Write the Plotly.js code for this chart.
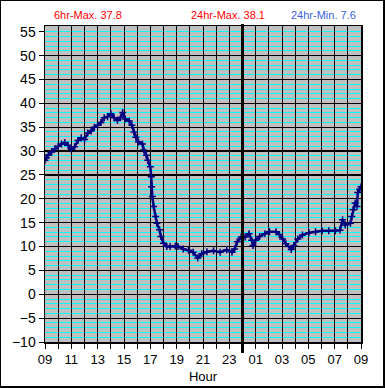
<!DOCTYPE html>
<html>
<head>
<meta charset="utf-8">
<script src="https://cdn.plot.ly/plotly-3.0.1.min.js"></script>
<style>
html,body{margin:0;padding:0;background:#fff;}
#frame{position:absolute;left:0;top:0;width:385px;height:388px;box-sizing:border-box;border-left:1px solid #000;border-top:1px solid #000;border-right:2px solid #000;border-bottom:2px solid #000;pointer-events:none;z-index:10;}
#chart{position:absolute;left:0;top:0;width:385px;height:388px;}
</style>
</head>
<body>
<div id="chart"></div>
<div id="frame"></div>
<script>
// Hours elapsed since 09:00
const hoursFrom9 = [0.0,0.1,0.25,0.5,0.75,1.0,1.25,1.5,1.75,2.0,2.25,2.5,2.75,3.0,3.25,3.5,3.75,4.0,4.25,4.5,4.75,5.0,5.25,5.5,5.75,5.9,6.1,6.4,6.6,6.75,6.9,7.1,7.4,7.5,7.7,7.8,8.0,8.07,8.1,8.15,8.25,8.4,8.5,8.7,8.8,9.0,9.25,9.5,9.9,10.1,10.5,10.9,11.25,11.6,11.9,12.3,12.8,13.3,13.8,14.2,14.4,14.6,14.9,15.2,15.5,15.7,15.8,16.0,16.3,16.7,17.05,17.55,17.8,18.05,18.3,18.7,18.9,19.2,19.55,20.05,20.55,21.05,21.55,22.05,22.4,22.6,22.8,23.2,23.3,23.4,23.55,23.7,23.75,23.9,24.0];
const temps = [28.1,28.6,29.1,29.8,30.5,31.0,31.5,31.8,31.2,30.4,30.9,32.2,32.8,32.4,33.8,34.2,35.0,35.4,36.0,37.0,37.2,37.8,37.0,36.4,37.1,38.1,36.7,36.3,35.4,34.0,32.9,31.9,31.5,30.2,29.1,28.1,26.7,24.6,22.5,20.5,18.4,16.3,14.9,13.5,12.1,10.7,10.0,10.0,10.1,10.0,9.5,9.2,8.8,7.6,8.5,8.9,9.1,8.8,9.3,8.8,9.5,11.0,12.0,12.0,12.7,11.3,10.2,11.3,12.1,12.7,13.1,13.1,12.5,11.6,10.6,9.4,10.2,11.6,12.4,12.9,13.1,13.3,13.3,13.3,13.4,15.6,14.5,14.9,16.3,17.7,19.1,18.4,21.3,22.0,22.5];

const hourTickVals = [0,1,2,3,4,5,6,7,8,9,10,11,12,13,14,15,16,17,18,19,20,21,22,23,24];
const hourTickText = ['09','','11','','13','','15','','17','','19','','21','','23','','01','','03','','05','','07','','09'];
const yTickVals = [-10,-5,0,5,10,15,20,25,30,35,40,45,50,55];
const yGridVals = [-10,-5,0,5,10,15,20,25,30,35,40,45,50];

const labels = {
  max6: '6hr-Max. 37.8',
  max24: '24hr-Max. 38.1',
  min24: '24hr-Min. 7.6',
  xTitle: 'Hour'
};
const midnightHour = 15;

const font = 'Arial, "Liberation Sans", sans-serif';

const trace = {
  x: hoursFrom9, y: temps, type: 'scatter', mode: 'lines+markers',
  line: {color: '#000080', width: 2.5},
  marker: {symbol: 'cross-thin', size: 5, line: {color: '#000080', width: 1.5}, color: '#000080'},
  hoverinfo: 'skip', showlegend: false
};
const dummy = {x: [0], y: [0], xaxis: 'x', yaxis: 'y2', mode: 'none', showlegend: false, hoverinfo: 'skip'};

const layout = {
  width: 385, height: 388,
  margin: {l: 45, r: 24, t: 26, b: 46},
  paper_bgcolor: '#ffffff',
  plot_bgcolor: '#C0C0C0',
  font: {family: font, color: '#000', size: 13},
  showlegend: false,
  xaxis: {
    range: [0, 24], tickmode: 'array', tickvals: hourTickVals, ticktext: hourTickText,
    showgrid: true, gridcolor: '#000', gridwidth: 1,
    ticks: 'outside', ticklen: 5, tickcolor: '#000', tickwidth: 1,
    showline: true, linecolor: '#000', linewidth: 1.5, mirror: true,
    zeroline: false, tickfont: {family: font, size: 13, color: '#000'},
    title: {text: labels.xTitle, font: {family: font, size: 13, color: '#000'}, standoff: 6}
  },
  yaxis: {
    range: [-10, 56.2], tickmode: 'array', tickvals: yTickVals,
    showgrid: false, zeroline: false,
    ticks: 'outside', ticklen: 5, tickcolor: '#000', tickwidth: 1,
    showline: true, linecolor: '#000', linewidth: 1.5, mirror: true,
    tickfont: {family: font, size: 14, color: '#000'}
  },
  yaxis2: {
    range: [-10, 56.2], overlaying: 'y', side: 'left',
    tickmode: 'array', tickvals: yGridVals, showticklabels: false, ticks: '',
    showgrid: true, gridcolor: '#000', gridwidth: 1.2, zeroline: false,
    minor: {tickmode: 'linear', tick0: 0, dtick: 1, showgrid: true, gridcolor: '#00FFFF', gridwidth: 1, ticks: ''}
  },
  shapes: [{
    type: 'line', xref: 'x', yref: 'paper', x0: midnightHour, x1: midnightHour, y0: -0.035, y1: 1.006,
    line: {color: '#000', width: 3}, layer: 'above'
  }],
  annotations: [
    {text: labels.max6, xref: 'paper', yref: 'paper', x: (88-45)/316, y: 1 + (26-15)/316, showarrow: false, xanchor: 'center', yanchor: 'middle', font: {family: font, size: 11, color: '#FF0000'}},
    {text: labels.max24, xref: 'paper', yref: 'paper', x: (228-45)/316, y: 1 + (26-15)/316, showarrow: false, xanchor: 'center', yanchor: 'middle', font: {family: font, size: 11, color: '#FF0000'}},
    {text: labels.min24, xref: 'paper', yref: 'paper', x: (323-45)/316, y: 1 + (26-15)/316, showarrow: false, xanchor: 'center', yanchor: 'middle', font: {family: font, size: 11, color: '#3A5FE0'}}
  ]
};

Plotly.newPlot('chart', [dummy, trace], layout, {staticPlot: true, displayModeBar: false});
</script>
</body>
</html>
